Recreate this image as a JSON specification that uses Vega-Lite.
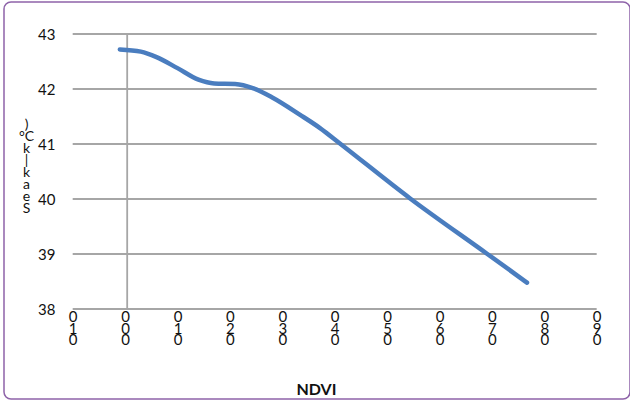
{
  "$schema": "https://vega.github.io/schema/vega-lite/v6.json",
  "autosize": "none",
  "width": 626,
  "height": 397,
  "padding": {"left": 4, "top": 2, "right": 0, "bottom": 4},
  "background": "white",
  "config": {
    "view": {"stroke": "#8e63a9", "strokeWidth": 1.5, "cornerRadius": 7},
    "font": "Lato"
  },
  "datasets": {
    "grid": [
      {"t": 38, "x0": -0.1, "x1": 0.9},
      {"t": 39, "x0": -0.1, "x1": 0.9},
      {"t": 40, "x0": -0.1, "x1": 0.9},
      {"t": 41, "x0": -0.1, "x1": 0.9},
      {"t": 42, "x0": -0.1, "x1": 0.9},
      {"t": 43, "x0": -0.1, "x1": 0.9}
    ],
    "vaxis": [{"x0": 0.004, "t": 38, "t2": 43}],
    "curve": [
      {"x0": -0.01, "t": 42.72},
      {"x0": 0.03, "t": 42.68},
      {"x0": 0.06, "t": 42.58},
      {"x0": 0.10, "t": 42.38},
      {"x0": 0.14, "t": 42.17},
      {"x0": 0.17, "t": 42.10},
      {"x0": 0.21, "t": 42.09},
      {"x0": 0.245, "t": 42.01},
      {"x0": 0.28, "t": 41.85},
      {"x0": 0.334, "t": 41.53},
      {"x0": 0.372, "t": 41.29},
      {"x0": 0.41, "t": 41.01},
      {"x0": 0.544, "t": 40.01},
      {"x0": 0.69, "t": 39.01},
      {"x0": 0.767, "t": 38.48}
    ]
  },
  "layer": [
    {
      "data": {"name": "grid"},
      "mark": {"type": "rule", "color": "#a6a6a6", "strokeWidth": 1.8},
      "encoding": {
        "y": {
          "field": "t", "type": "quantitative",
          "scale": {"domain": [36.364, 43.582], "nice": false, "zero": false},
          "axis": {
            "orient": "left",
            "values": [38, 39, 40, 41, 42, 43],
            "format": "d",
            "offset": -51,
            "domain": false, "ticks": false, "tickSize": 0, "grid": false,
            "labelPadding": 0, "labelFontSize": 15, "labelColor": "#111111",
            "labelOverlap": false, "labelFlush": false,
            "title": [")", "", "°C", "k", "|", "k", "a", "e", "S"],
            "titleAngle": 0, "titleX": -29, "titleY": 115,
            "titleAlign": "center", "titleBaseline": "top",
            "titleFontSize": 14, "titleFontWeight": "normal", "titleLineHeight": 12,
            "titleColor": "#111111"
          }
        },
        "x": {
          "field": "x0", "type": "quantitative",
          "scale": {"domain": [-0.2311, 0.9636], "nice": false, "zero": false},
          "axis": {
            "orient": "bottom",
            "values": [-0.1, 0, 0.1, 0.2, 0.3, 0.4, 0.5, 0.6, 0.7, 0.8, 0.9],
            "labelExpr": "datum.value < -0.05 ? ['0','1','0'] : ['0', toString(round(datum.value*10)), '0']",
            "offset": -90.5,
            "domain": false, "ticks": false, "tickSize": 0, "grid": false,
            "labelPadding": 1, "labelBaseline": "top", "labelAlign": "center",
            "labelFontSize": 15, "labelLineHeight": 11.5, "labelColor": "#111111",
            "labelOverlap": false, "labelFlush": false,
            "title": "NDVI", "titleFontSize": 16, "titleFontWeight": "bold", "titleColor": "#111111",
            "titleX": 312, "titleY": 80.5, "titleAlign": "center", "titleBaseline": "middle"
          }
        },
        "x2": {"field": "x1"}
      }
    },
    {
      "data": {"name": "vaxis"},
      "mark": {"type": "rule", "color": "#a6a6a6", "strokeWidth": 1.8},
      "encoding": {
        "x": {"field": "x0", "type": "quantitative"},
        "y": {"field": "t", "type": "quantitative"},
        "y2": {"field": "t2"}
      }
    },
    {
      "data": {"name": "curve"},
      "mark": {"type": "line", "color": "#4a7dbf", "strokeWidth": 4.5, "strokeCap": "round", "interpolate": "monotone"},
      "encoding": {
        "x": {"field": "x0", "type": "quantitative"},
        "y": {"field": "t", "type": "quantitative"}
      }
    }
  ]
}
